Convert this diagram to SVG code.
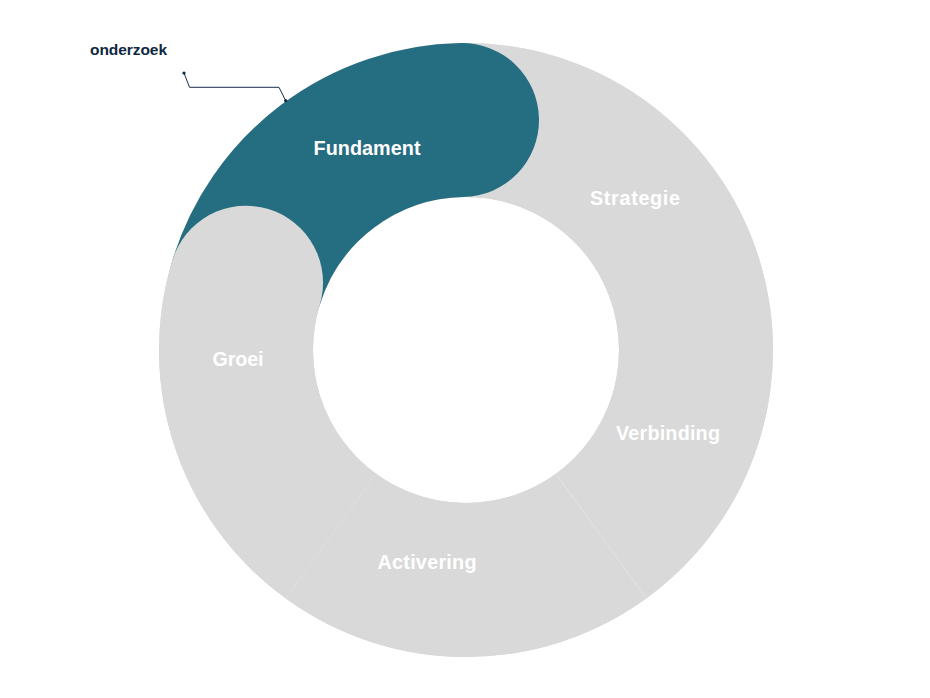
<svg xmlns="http://www.w3.org/2000/svg" width="930" height="698" viewBox="0 0 930 698">
  <style>
    .seg { fill: #D9D9D9; }
    .lbl { font-family: "Liberation Sans", Arial, sans-serif; font-weight: bold; font-size: 19.8px; fill: #FFFFFF; text-anchor: middle; }
    .sep { stroke: #E6E6E6; stroke-width: 0.8; }
    .lead { fill: none; stroke: #1B2F4A; stroke-width: 1; }
    .dot { fill: #0E2841; }
    .note { font-family: "Liberation Sans", Arial, sans-serif; font-weight: bold; font-size: 15.5px; fill: #0E2841; }
  </style>
  <rect width="930" height="698" fill="#FFFFFF"/>
  <circle cx="466" cy="350" r="230" fill="none" stroke="#D9D9D9" stroke-width="154"/>
  <g id="strategie">
    <path class="seg" d="M 460.64 43.05 A 307 307 0 0 1 756.27 250.05 L 610.66 300.19 A 153 153 0 0 0 463.33 197.02 Z"/>
    <text class="lbl" x="635" y="205" textLength="90">Strategie</text>
  </g>
  <g id="verbinding">
    <path class="seg" d="M 756.27 250.05 A 307 307 0 0 1 646.45 598.37 L 555.93 473.78 A 153 153 0 0 0 610.66 300.19 Z"/>
    <text class="lbl" x="668" y="440" textLength="104">Verbinding</text>
  </g>
  <g id="activering">
    <path class="seg" d="M 646.45 598.37 A 307 307 0 0 1 285.55 598.37 L 376.07 473.78 A 153 153 0 0 0 555.93 473.78 Z"/>
    <text class="lbl" x="427" y="569" textLength="99">Activering</text>
  </g>
  <g id="separators">
    <line class="sep" x1="556.5" y1="474.6" x2="646.45" y2="598.37"/>
    <line class="sep" x1="375.5" y1="474.6" x2="285.55" y2="598.37"/>
  </g>
  <g id="fundament">
    <path d="M 246.05 282.75 A 230 230 0 0 1 461.99 120.03" fill="none" stroke="#256D80" stroke-width="154" stroke-linecap="round"/>
    <text class="lbl" x="367" y="155" textLength="107">Fundament</text>
  </g>
  <g id="groei">
    <path class="seg" d="M 285.55 598.37 A 307 307 0 0 1 172.41 260.24 L 319.69 305.27 A 153 153 0 0 0 376.07 473.78 Z"/>
    <circle class="seg" cx="246.05" cy="282.75" r="77"/>
    <text class="lbl" x="238" y="366" textLength="51">Groei</text>
  </g>
  <g id="onderzoek">
    <text class="note" x="90" y="55" textLength="77">onderzoek</text>
  </g>
  <g id="connectors">
    <polyline class="lead" points="184,73 189.5,87.3 279,87.3 285.7,100.7"/>
    <circle class="dot" cx="184" cy="73" r="1.6"/>
    <circle class="dot" cx="285.7" cy="100.7" r="1.6"/>
  </g>
</svg>
